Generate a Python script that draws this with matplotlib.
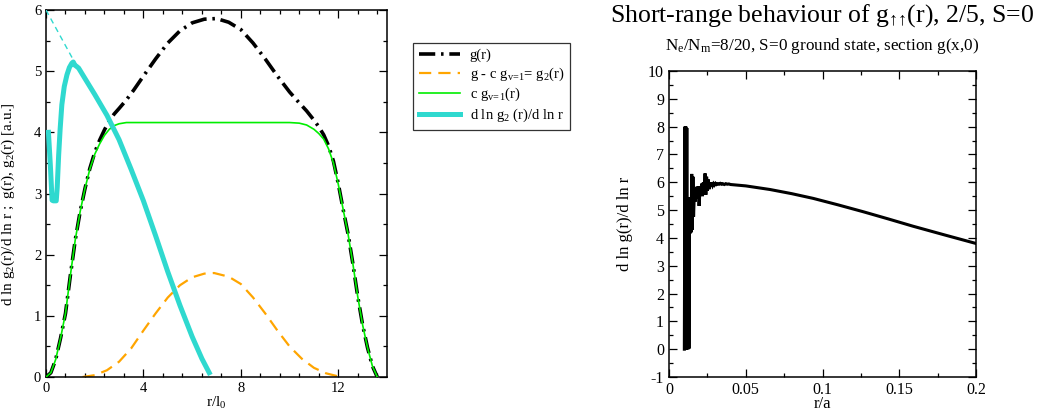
import matplotlib
matplotlib.use("Agg")
import matplotlib.pyplot as plt
from matplotlib.ticker import MultipleLocator

plt.rcParams['font.family'] = ['Liberation Serif', 'DejaVu Serif']
plt.rcParams['mathtext.fontset'] = 'custom'
plt.rcParams['mathtext.rm'] = 'Liberation Serif'
plt.rcParams['mathtext.it'] = 'Liberation Serif'
plt.rcParams['mathtext.bf'] = 'Liberation Serif:bold'
plt.rcParams['axes.unicode_minus'] = False

# ---- left panel: pair correlation and its decomposition ----
r_grid = [0.0, 0.2, 0.4, 0.6, 0.8, 1.0, 1.2, 1.4, 1.6, 1.8, 2.0, 2.2, 2.4, 2.6,
          2.8, 3.0, 3.3, 3.6, 4.0, 4.5, 5.0, 5.5, 6.0, 6.5, 7.0, 7.5, 8.0, 8.5,
          9.0, 9.5, 10.0, 10.4, 10.7, 11.0, 11.2, 11.4, 11.6, 11.8, 12.0, 12.2,
          12.4, 12.6, 12.8, 13.0, 13.2, 13.4, 13.6]
g_total = [0.0, 0.07, 0.29, 0.64, 1.04, 1.66, 2.24, 2.70, 3.08, 3.41, 3.67, 3.87,
           4.04, 4.19, 4.30, 4.39, 4.53, 4.69, 4.92, 5.20, 5.46, 5.66, 5.79, 5.85,
           5.86, 5.80, 5.68, 5.46, 5.20, 4.92, 4.66, 4.48, 4.35, 4.20, 4.09, 3.96,
           3.78, 3.53, 3.16, 2.74, 2.34, 1.85, 1.31, 0.85, 0.48, 0.18, 0.0]
c_g_nu1 = [0.0, 0.07, 0.29, 0.64, 1.04, 1.66, 2.24, 2.70, 3.08, 3.40, 3.64, 3.81,
           3.95, 4.05, 4.11, 4.14, 4.16, 4.16, 4.16, 4.16, 4.16, 4.16, 4.16, 4.16,
           4.16, 4.16, 4.16, 4.16, 4.16, 4.16, 4.16, 4.15, 4.12, 4.05, 3.98, 3.89,
           3.73, 3.50, 3.15, 2.74, 2.34, 1.85, 1.31, 0.85, 0.48, 0.18, 0.0]

r_g2 = [1.5, 2.0, 2.5, 3.0, 3.5, 4.0, 4.5, 5.0, 5.5, 6.0, 6.5, 6.9, 7.5, 8.0,
        8.5, 9.0, 9.5, 10.0, 10.5, 11.0, 11.5, 12.0, 12.2]
g2 = [0.0, 0.03, 0.11, 0.25, 0.47, 0.76, 1.04, 1.30, 1.50, 1.63, 1.69, 1.70,
      1.64, 1.52, 1.30, 1.04, 0.76, 0.50, 0.30, 0.15, 0.06, 0.01, 0.0]

r_dlog = [0.10, 0.18, 0.25, 0.30, 0.42, 0.46, 0.52, 0.58, 0.65, 0.75, 0.86, 0.96,
          1.06, 1.12, 1.18, 1.25, 1.34, 1.6, 2.0, 2.5, 3.0, 3.5, 4.0, 4.5, 5.0,
          5.5, 6.0, 6.4, 6.7]
dlog_g2 = [4.0, 3.45, 2.89, 2.88, 2.88, 3.1, 3.63, 4.05, 4.45, 4.75, 4.94, 5.06,
           5.13, 5.15, 5.10, 5.08, 5.05, 4.88, 4.62, 4.28, 3.88, 3.39, 2.88, 2.31,
           1.72, 1.17, 0.66, 0.30, 0.07]

# linear extrapolation of the slope towards r = 0
r_extrap = [0.0, 1.1]
dlog_extrap = [6.0, 5.2]

# ---- right panel: logarithmic derivative at short range ----
r_short = [0.0100, 0.0104, 0.0107, 0.0110, 0.0113, 0.0116, 0.0119, 0.0122,
           0.0125, 0.0128, 0.0130, 0.0133, 0.0137, 0.0141, 0.0144, 0.0148,
           0.0152, 0.0156, 0.0160, 0.0165, 0.0170, 0.0174, 0.0178, 0.0182,
           0.0187, 0.0191, 0.0196, 0.0202, 0.0207, 0.0213, 0.0218, 0.0224,
           0.0229, 0.0235, 0.0240, 0.0245, 0.0250, 0.0256, 0.0261, 0.0267,
           0.0272, 0.0278, 0.0284, 0.0290, 0.0296, 0.0303, 0.0310, 0.0318,
           0.0326, 0.0334, 0.0342, 0.0350, 0.0360, 0.0370, 0.0380, 0.0390,
           0.040, 0.050, 0.0658, 0.080, 0.094, 0.110, 0.1266, 0.143, 0.159,
           0.180, 0.200]
dlog_short = [0.0, 8.0, -0.02, 8.0, -0.02, 7.95, 0.0, 5.46,
              0.0, 5.46, 0.02, 5.46, 4.16, 5.46, 4.2, 6.3,
              4.3, 6.2, 4.76, 5.6, 5.3, 5.78, 5.4, 5.84,
              5.5, 5.85, 5.15, 5.75, 5.6, 5.95, 5.5, 6.0,
              5.6, 6.32, 5.55, 6.2, 5.7, 6.1, 5.75, 6.0,
              5.85, 5.97, 5.88, 5.95, 5.9, 5.96, 5.92, 5.95,
              5.93, 5.96, 5.93, 5.95, 5.92, 5.95, 5.93, 5.94,
              5.92, 5.87, 5.74, 5.59, 5.42, 5.19, 4.94, 4.68, 4.42,
              4.10, 3.80]

fig = plt.figure(figsize=(10.44, 4.19), dpi=100)
ax1 = fig.add_axes([46 / 1044, 1 - 377 / 419, 341 / 1044, 367 / 419])
ax2 = fig.add_axes([669 / 1044, 1 - 377 / 419, 307 / 1044, 306 / 419])

green = '#00ee00'
turq = '#2fd9cf'
orange = '#ffa500'

l_g, = ax1.plot(r_grid, g_total, color='black', lw=2.6,
                dashes=(4.5, 1.6, 0.7, 1.6), label='g(r)', zorder=3)
l_g2, = ax1.plot(r_g2, g2, color=orange, lw=1.6, dashes=(5.5, 3.2),
                 label='g - c g$_{v\\!=\\!1}$= g$_2$(r)', zorder=2)
l_c, = ax1.plot(r_grid, c_g_nu1, color=green, lw=1.2,
                label='c g$_{v\\!=\\!1}$(r)', zorder=4)
l_d, = ax1.plot(r_dlog, dlog_g2, color=turq, lw=3.6,
                label='d ln g$_2$ (r)/d ln r', zorder=5, solid_joinstyle='round')
ax1.plot(r_extrap, dlog_extrap, color=turq, lw=1.0, dashes=(4, 3), zorder=5)

ax1.set_xlim(0, 14)
ax1.set_ylim(0, 6)
ax1.xaxis.set_major_locator(MultipleLocator(4))
ax1.xaxis.set_minor_locator(MultipleLocator(0.8))
ax1.yaxis.set_major_locator(MultipleLocator(1))
ax1.yaxis.set_minor_locator(MultipleLocator(0.5))
ax1.set_xlabel('r/l$_0$', fontsize=11, labelpad=0)
ax1.set_ylabel('d ln g$_2$(r)/d ln r ;  g(r), g$_2$(r) [a.u.]', fontsize=11)
ax1.yaxis.set_label_coords(-0.085, 0.47)

ax2.plot(r_short, dlog_short, color='black', lw=2.2, solid_joinstyle='miter')
ax2.set_xlim(0, 0.2)
ax2.set_ylim(-1, 10)
ax2.xaxis.set_major_locator(MultipleLocator(0.05))
ax2.xaxis.set_minor_locator(MultipleLocator(0.025))
ax2.yaxis.set_major_locator(MultipleLocator(1))
ax2.yaxis.set_minor_locator(MultipleLocator(0.5))
ax2.set_xticks([0, 0.05, 0.1, 0.15, 0.2])
ax2.set_xticklabels(['0', '0.05', '0.1', '0.15', '0.2'])
ax2.set_xlabel('r/a', fontsize=12, labelpad=-1)
ax2.set_ylabel('d ln g(r)/d ln r', fontsize=12)
ax2.yaxis.set_label_coords(-0.117, 0.5)

for ax, fs in ((ax1, 10.5), (ax2, 11.5)):
    ax.tick_params(which='both', direction='in', top=True, right=True,
                   labelsize=fs, width=0.9)
    ax.tick_params(which='major', length=6, pad=3.5)
    ax.tick_params(which='minor', length=3)
    for s in ax.spines.values():
        s.set_linewidth(1.1)

fig.text(822 / 1044, 1 - 16 / 419,
         'Short-range behaviour of g$_{↑↑}$(r), 2/5, S=0',
         ha='center', va='center', fontsize=18.5)
fig.text(822 / 1044, 1 - 46 / 419,
         'N$_e$/N$_m$=8/20, S=0 ground state, section g(x,0)',
         ha='center', va='center', fontsize=12.3)

leg = fig.legend(handles=[l_g, l_g2, l_c, l_d], loc='upper left',
                 bbox_to_anchor=(413 / 1044, 1 - 43 / 419), fontsize=10.5,
                 frameon=True, fancybox=False, edgecolor='black',
                 handlelength=2.8, labelspacing=0.22, borderpad=0.4,
                 handletextpad=0.7, borderaxespad=0)
leg.get_frame().set_linewidth(0.9)

fig.savefig('out.png', dpi=100)
